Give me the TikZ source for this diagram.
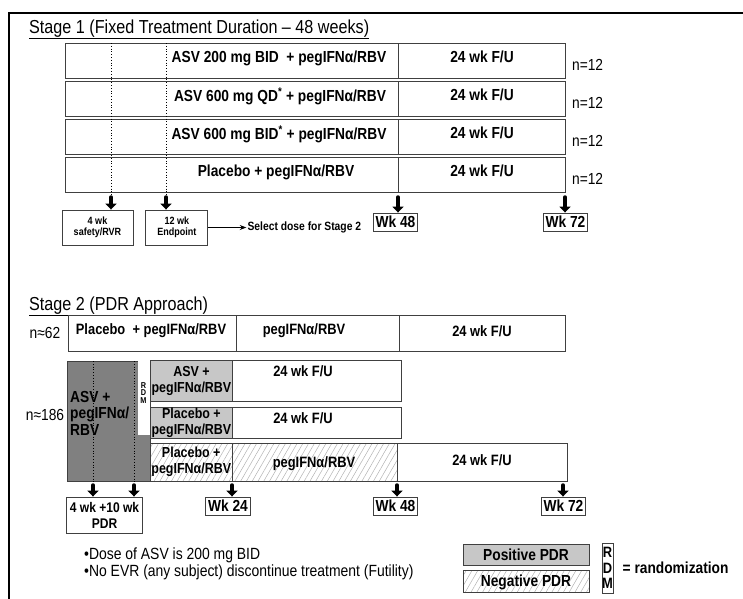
\documentclass[tikz,border=0pt]{standalone}
\usepackage{fontspec}
\setmainfont[FakeStretch=0.86]{Liberation Sans}
\usetikzlibrary{shapes, arrows.meta, positioning, patterns.meta}
\tikzstyle{cell} = [rectangle, draw=black!75, line width=0.9pt, inner sep=0pt, anchor=north west]
\tikzstyle{txt} = [font=\bfseries\fontsize{16}{18}\selectfont, inner sep=0pt]
\tikzstyle{rowtxt} = [font=\bfseries\fontsize{15}{17}\selectfont, inner sep=0pt]
\tikzstyle{twoline} = [font=\bfseries\fontsize{14.5}{16}\selectfont, align=center]
\tikzstyle{head} = [font=\fontsize{18.8}{20}\selectfont, inner sep=0pt]
\tikzstyle{count} = [font=\fontsize{16}{18}\selectfont, inner sep=0pt]
\tikzstyle{smallbox} = [rectangle, draw=black!75, line width=0.9pt, align=center, font=\bfseries\fontsize{10.5}{11}\selectfont]
\tikzstyle{wkbox} = [rectangle, draw=black!75, line width=0.9pt, inner xsep=2.5pt, inner ysep=0pt, minimum height=18pt, font=\bfseries\fontsize{16}{18}\selectfont]
\tikzstyle{positive} = [fill=black!22]
\tikzstyle{negative} = [pattern={Lines[angle=60, distance=5pt, line width=0.5pt]}, pattern color=black!30]
\tikzstyle{dotline} = [dotted, line width=0.8pt]
\tikzstyle{drop} = [line width=3.5pt, line cap=round, -{Triangle[width=11pt, length=6pt]}]
\tikzstyle{arrow} = [line width=0.8pt, ->, >=Stealth]

\begin{document}
\begin{tikzpicture}[x=1pt, y=-1pt]
    \useasboundingbox (0,0) rectangle (743,598);
    \draw[line width=1.2pt] (9,600) -- (9,13) -- (745,13);

    % Stage 1
    \node (title1) [head, anchor=base west] at (29,33) {\underline{Stage 1 (Fixed Treatment Duration – 48 weeks)}};

    \node (r1a) [cell, minimum width=333pt, minimum height=35pt] at (65,43) {};
    \node (r1b) [cell, minimum width=167pt, minimum height=35pt] at (398,43) {};
    \node (r2a) [cell, minimum width=333pt, minimum height=35pt] at (65,81) {};
    \node (r2b) [cell, minimum width=167pt, minimum height=35pt] at (398,81) {};
    \node (r3a) [cell, minimum width=333pt, minimum height=35pt] at (65,119) {};
    \node (r3b) [cell, minimum width=167pt, minimum height=35pt] at (398,119) {};
    \node (r4a) [cell, minimum width=333pt, minimum height=35pt] at (65,157) {};
    \node (r4b) [cell, minimum width=167pt, minimum height=35pt] at (398,157) {};

    \node (t1) [txt] at (279,58) {ASV 200 mg BID \ + pegIFNα/RBV};
    \node (t2) [txt] at (280,96) {ASV 600 mg QD\textsuperscript{*} + pegIFNα/RBV};
    \node (t3) [txt] at (279,134) {ASV 600 mg BID\textsuperscript{*} + pegIFNα/RBV};
    \node (t4) [txt] at (276,172) {Placebo + pegIFNα/RBV};
    \node (f1) [txt] at (482,57) {24 wk F/U};
    \node (f2) [txt] at (482,95) {24 wk F/U};
    \node (f3) [txt] at (482,133) {24 wk F/U};
    \node (f4) [txt] at (482,171) {24 wk F/U};
    \node (n1) [count, right=6pt of r1b, yshift=-4pt] {n=12};
    \node (n2) [count, right=6pt of r2b, yshift=-4pt] {n=12};
    \node (n3) [count, right=6pt of r3b, yshift=-4pt] {n=12};
    \node (n4) [count, right=6pt of r4b, yshift=-4pt] {n=12};

    \node (b4wk) [smallbox, minimum width=71pt, minimum height=35pt] at (97.5,227.5) {4 wk\\safety/RVR};
    \node (b12wk) [smallbox, minimum width=62pt, minimum height=35pt, right=12pt of b4wk] {12 wk\\Endpoint};
    \node (select) [font=\bfseries\fontsize{12}{14}\selectfont, inner sep=1pt, right=38pt of b12wk] {Select dose for Stage 2};
    \node (wk48a) [wkbox] at (395.5,222) {Wk 48};
    \node (wk72a) [wkbox] at (565.5,222) {Wk 72};

    \coordinate (d1) at (111,43);
    \coordinate (d2) at (166,43);
    \coordinate (a1) at (111,197);
    \coordinate (a2) at (166,197);
    \coordinate (a3) at (398,197);
    \coordinate (a4) at (565,197);
    \draw[dotline] (d1) -- (a1);
    \draw[dotline] (d2) -- (a2);
    \draw[drop] (a1) -- (a1 |- b4wk.north);
    \draw[drop] (a2) -- (a2 |- b12wk.north);
    \draw[drop] (a3) -- (a3 |- wk48a.north);
    \draw[drop] (a4) -- (a4 |- wk72a.north);
    \draw[arrow] (b12wk) -- (select);

    % Stage 2
    \node (title2) [head, anchor=base west] at (29,310) {\underline{Stage 2 (PDR Approach)}};

    \node (p1) [cell, minimum width=168pt, minimum height=36pt] at (68,315) {};
    \node (p2) [cell, minimum width=163pt, minimum height=36pt] at (236,315) {};
    \node (p3) [cell, minimum width=166pt, minimum height=36pt] at (399,315) {};
    \node (pt1) [rowtxt] at (151,331) {Placebo \ + pegIFNα/RBV};
    \node (pt2) [rowtxt] at (304,331) {pegIFNα/RBV};
    \node (pt3) [rowtxt] at (482,331) {24 wk F/U};
    \node (n62) [count] at (45,333) {n≈62};

    \node (asv) [cell, fill=black!50, minimum width=83pt, minimum height=120pt] at (67,361) {};
    \node (rdm) [cell, fill=white, draw=none, minimum width=12pt, minimum height=76pt] at (138,359) {};
    \node (rdmtxt) [font=\bfseries\fontsize{8.5}{7.5}\selectfont, align=center, inner sep=0pt] at (143.5,393) {R\\D\\M};
    \node (asvtxt) [font=\bfseries\fontsize{16}{16.5}\selectfont, align=left, anchor=west, inner sep=0pt] at (70,413) {ASV +\\pegIFNα/\\RBV};
    \node (n186) [count] at (45,415) {n≈186};

    \node (ga) [cell, positive, twoline, inner sep=0pt, minimum width=82pt, minimum height=41pt] at (150,360) {ASV +\\pegIFNα/RBV};
    \node (fa) [cell, minimum width=169pt, minimum height=41pt] at (232,360) {};
    \node (gb) [cell, positive, twoline, inner sep=0pt, minimum width=82pt, minimum height=31pt] at (150,407) {Placebo +\\pegIFNα/RBV};
    \node (fb) [cell, minimum width=169pt, minimum height=31pt] at (232,407) {};
    \node (gc) [cell, negative, twoline, inner sep=0pt, minimum width=82pt, minimum height=38pt] at (150,443) {Placebo +\\pegIFNα/RBV};
    \node (hc) [cell, negative, minimum width=165pt, minimum height=38pt] at (232,443) {};
    \node (fc) [cell, minimum width=170pt, minimum height=38pt] at (397,443) {};
    \node (fat) [rowtxt] at (303,371) {24 wk F/U};
    \node (fbt) [rowtxt] at (303,418) {24 wk F/U};
    \node (hct) [rowtxt] at (314,464) {pegIFNα/RBV};
    \node (fct) [rowtxt] at (482,460) {24 wk F/U};

    \node (pdr) [smallbox, font=\bfseries\fontsize{14}{16}\selectfont, minimum width=75pt, minimum height=36pt] at (104.5,515) {4 wk +10 wk\\PDR};
    \node (wk24) [wkbox] at (228,506) {Wk 24};
    \node (wk48b) [wkbox] at (395.5,506) {Wk 48};
    \node (wk72b) [wkbox] at (563.5,506) {Wk 72};

    \coordinate (e1) at (93,361);
    \coordinate (e2) at (134,361);
    \coordinate (c1) at (93,485);
    \coordinate (c2) at (134,485);
    \coordinate (c3) at (232,485);
    \coordinate (c4) at (397,485);
    \coordinate (c5) at (563,485);
    \draw[dotline] (e1) -- (c1);
    \draw[dotline] (e2) -- (c2);
    \draw[drop] (c1) -- (c1 |- pdr.north);
    \draw[drop] (c2) -- (c2 |- pdr.north);
    \draw[drop] (c3) -- (c3 |- wk24.north);
    \draw[drop] (c4) -- (c4 |- wk48b.north);
    \draw[drop] (c5) -- (c5 |- wk72b.north);

    \node (notes) [font=\fontsize{16.2}{14.5}\selectfont, align=left, anchor=north west, inner sep=0pt] at (84,548) {•Dose of ASV is 200 mg BID\\•No EVR (any subject) discontinue treatment (Futility)};

    % legend
    \node (pos) [cell, positive, anchor=center, txt, minimum width=126pt, minimum height=21pt] at (526,554.5) {Positive PDR};
    \node (neg) [cell, negative, anchor=north, txt, minimum width=126pt, minimum height=22pt, below=5pt of pos] {Negative PDR};
    \node (rdmkey) [cell, anchor=center, font=\bfseries\fontsize{15}{15.5}\selectfont, align=center, minimum width=11pt, minimum height=50pt] at (607.5,568) {R\\D\\M};
    \node (rdmlbl) [txt, right=9pt of rdmkey] {= randomization};
\end{tikzpicture}
\end{document}
